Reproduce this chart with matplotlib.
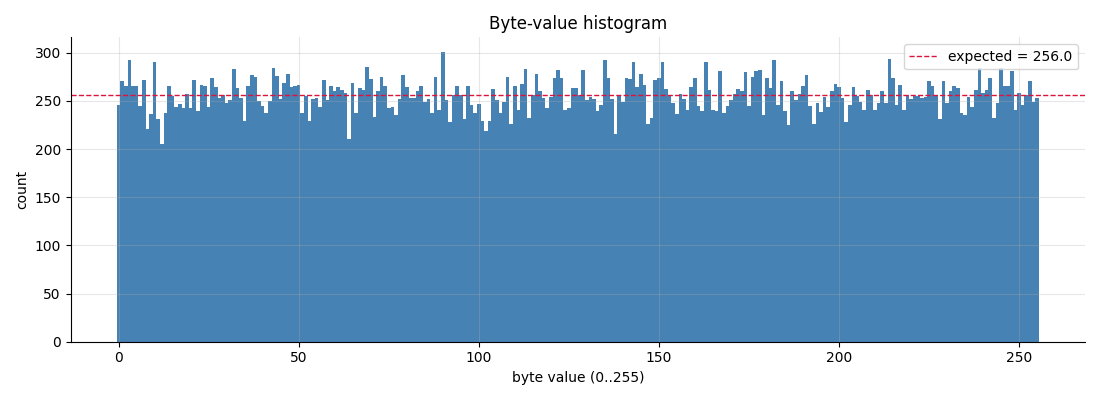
import numpy as np
import matplotlib
matplotlib.use("Agg")
import matplotlib.pyplot as plt

# counts per byte value
byte_values = np.arange(256)
counts = [
    246, 271, 265, 293, 266, 266, 245, 272, 221, 236,
    290, 231, 205, 238, 265, 255, 244, 247, 243, 257,
    243, 272, 240, 267, 266, 244, 274, 264, 253, 256,
    248, 251, 283, 263, 253, 229, 265, 277, 275, 250,
    245, 238, 250, 284, 276, 252, 269, 278, 264, 266,
    267, 237, 255, 229, 252, 253, 244, 272, 251, 266,
    260, 264, 261, 258, 211, 269, 238, 263, 261, 285,
    273, 233, 260, 275, 266, 243, 244, 235, 252, 277,
    264, 253, 253, 260, 266, 249, 252, 238, 275, 241,
    301, 251, 228, 256, 265, 256, 231, 265, 246, 237,
    247, 229, 219, 229, 262, 251, 238, 249, 275, 226,
    266, 241, 268, 283, 232, 256, 278, 260, 253, 243,
    254, 274, 282, 274, 241, 243, 263, 263, 256, 282,
    251, 254, 252, 240, 246, 292, 274, 252, 216, 255,
    249, 274, 273, 290, 264, 278, 267, 226, 232, 272,
    274, 290, 262, 255, 248, 236, 257, 252, 241, 264,
    274, 245, 240, 290, 261, 241, 240, 281, 237, 245,
    251, 257, 262, 260, 280, 245, 275, 281, 282, 235,
    274, 263, 292, 246, 271, 240, 225, 260, 251, 257,
    266, 277, 245, 226, 248, 239, 254, 244, 260, 268,
    264, 253, 228, 246, 264, 255, 249, 241, 261, 256,
    241, 248, 260, 248, 294, 274, 246, 267, 241, 256,
    252, 255, 255, 253, 254, 271, 266, 256, 231, 271,
    248, 260, 265, 263, 238, 235, 254, 244, 261, 284,
    258, 261, 274, 232, 248, 284, 266, 266, 281, 241,
    258, 246, 256, 271, 249, 253,
]
expected = 256.0

fig, ax = plt.subplots(figsize=(11, 4), dpi=100)
ax.hist(byte_values, bins=np.arange(257) - 0.5, weights=counts, color="steelblue")
ax.axhline(expected, color="crimson", linestyle="--", linewidth=1, label="expected = %.1f" % expected)

ax.set_title("Byte-value histogram")
ax.set_xlabel("byte value (0..255)")
ax.set_ylabel("count")
ax.grid(alpha=0.3)
ax.spines["top"].set_visible(False)
ax.spines["right"].set_visible(False)
ax.legend(loc="upper right")

plt.tight_layout()
plt.savefig("out.png")
